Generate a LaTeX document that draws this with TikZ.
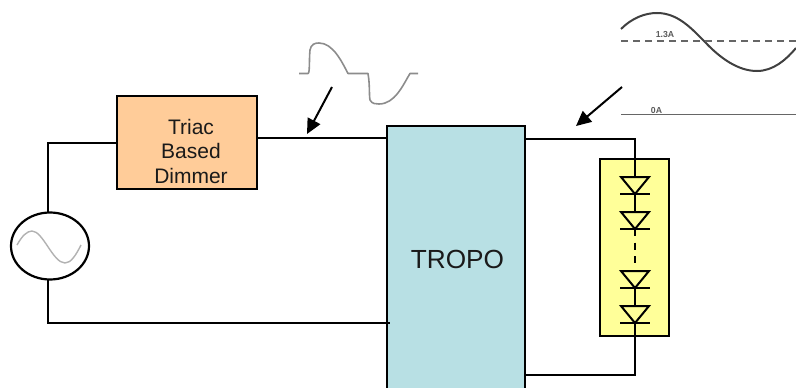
\documentclass[tikz,border=0pt]{standalone}
\usepackage{fontspec}
\setmainfont{Liberation Sans}
\usetikzlibrary{arrows.meta,shapes.geometric,calc}
\definecolor{dimfill}{HTML}{FFCC99}
\definecolor{tropofill}{HTML}{B8E0E4}
\definecolor{ledfill}{HTML}{FFFF99}
\definecolor{ink}{HTML}{1A1A1A}
\tikzset{
  wire/.style={draw=black,line width=2pt,line cap=butt,line join=miter},
  block/.style={draw=black,line width=2.2pt,inner sep=0pt,anchor=center},
  pointer/.style={draw=black,line width=2pt,-{Triangle[width=14pt,length=15pt]}},
  wave/.style={draw=black!45,line width=1.6pt,line join=round},
  scopetrace/.style={draw=black!75,line width=2pt},
  scopelabel/.style={text=black!65,font=\bfseries\fontsize{8.7}{9}\selectfont,inner sep=0pt},
  diodetri/.style={draw=black,fill=ledfill,line width=2pt,line join=miter},
}
\begin{document}
\begin{tikzpicture}[x=1pt,y=-1pt]
\useasboundingbox (0,0) rectangle (796,388);
% blocks
\node[block,fill=dimfill,minimum width=140pt,minimum height=93pt] (dimmer) at (187,142.5) {};
\node[align=center,text=ink,font=\fontsize{21}{24.5}\selectfont,inner sep=0pt] (dimmertext) at (191,151) {Triac\\Based\\Dimmer};
\node[block,fill=tropofill,minimum width=138pt,minimum height=266pt,text=ink,font=\fontsize{26.2}{30}\selectfont] (tropo) at (456,259) {\hspace*{3pt}TROPO};
\node[block,fill=ledfill,minimum width=69pt,minimum height=177pt] (led) at (634.5,247.5) {};
\node[block,ellipse,fill=white,minimum width=78pt,minimum height=67pt] (src) at (50,246) {};
% source sine
\draw[black!30,line width=1.4pt] (17,245) .. controls (22,236) and (27,231) .. (32,231) .. controls (43,231) and (53,263) .. (65,263) .. controls (71,263) and (76,255) .. (81,245);
% wires
\coordinate (dimout) at (257,138.3);
\coordinate (toin) at (387,138.3);
\coordinate (toout) at (525,139);
\coordinate (lowin) at (390,323);
\coordinate (toback) at (525,375);
\coordinate (ledin) at (635,159);
\coordinate (ledout) at (635,336);
\draw[wire] (48,213) -- (48,142.5) -- (dimmer.west);
\draw[wire] (dimout) -- (toin);
\draw[wire] (48,279) -- (48,323) -- (lowin);
\draw[wire] (toout) -- (635,139) -- (ledin);
\draw[wire] (ledout) -- (635,375) -- (toback);
% diode string
\draw[wire] (ledin) -- (635,229);
\draw[wire,dash pattern=on 7pt off 6.5pt] (635,229) -- (635,264);
\draw[wire] (635,271) -- (ledout);
\foreach \t in {177,212,271,306}{
  \draw[diodetri] (621,\t) -- (649,\t) -- (635,\t+17) -- cycle;
  \draw[diodetri] (620,\t+17) -- (650,\t+17);
}
% pointers
\coordinate (p1s) at (332,87);
\coordinate (p1e) at (307,134);
\coordinate (p2s) at (622,87);
\coordinate (p2e) at (576,126);
\draw[pointer] (p1s) -- (p1e);
\draw[pointer] (p2s) -- (p2e);
% dimmer waveform
\draw[wave] (299,73.5) -- (308,73.5) .. controls (310,73) and (309,60) .. (310,50) .. controls (311,44) and (315,43) .. (319,43) .. controls (333,43) and (342,62) .. (348,73.5) -- (368,73.5) .. controls (370,85) and (369,95) .. (370,100) .. controls (372,104) and (376,104) .. (379,104) .. controls (395,104) and (403,85) .. (410,73.5) -- (418,73.5);
% output waveform
\draw[scopetrace] (621,29) .. controls (632,18) and (645,13) .. (657,13) .. controls (678,13) and (692,29) .. (705,42) .. controls (720,58) and (738,71) .. (757,71) .. controls (773,71) and (786,60) .. (796,48);
\draw[draw=black!60,line width=1.6pt,dash pattern=on 7pt off 5pt] (621,41) -- (796,41);
\draw[draw=black!60,line width=1.5pt] (621,114.5) -- (796,114.5);
\node[scopelabel] (amp) at (665,35) {1.3A};
\node[scopelabel] (zero) at (656.5,110.5) {0A};
\end{tikzpicture}
\end{document}
